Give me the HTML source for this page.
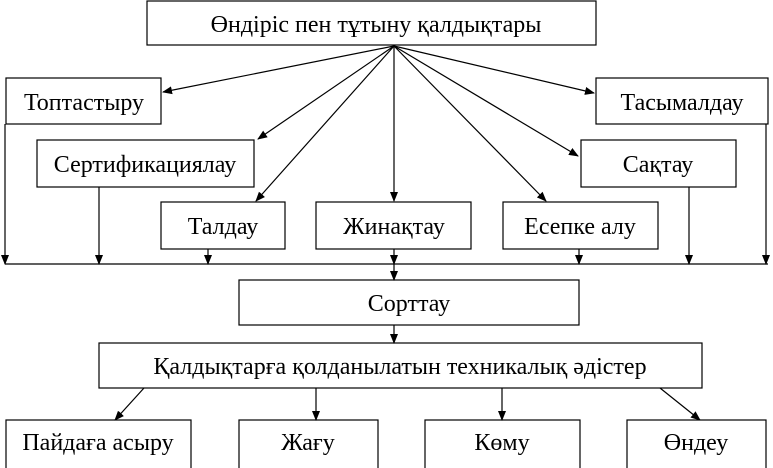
<!DOCTYPE html>
<html><head><meta charset="utf-8"><style>
html,body{margin:0;padding:0;background:#fff;width:773px;height:468px;overflow:hidden}
svg text{font-family:"Liberation Serif",serif;font-size:24px;fill:#000;text-anchor:middle}
</style></head><body>
<svg width="773" height="468" viewBox="0 0 773 468" xmlns="http://www.w3.org/2000/svg">
<defs><marker id="a" markerWidth="10" markerHeight="10" refX="9" refY="5" orient="auto" markerUnits="userSpaceOnUse"><path d="M0,1 L10,5 L0,9 z" fill="#000"/></marker></defs>
<g fill="#fff" stroke="#000" stroke-width="1.2">
<rect x="147" y="1" width="449" height="44"/>
<rect x="6" y="78" width="155" height="46"/>
<rect x="596" y="78" width="172" height="46"/>
<rect x="37" y="140" width="217" height="47"/>
<rect x="581" y="140" width="155" height="47"/>
<rect x="161" y="202" width="124" height="47"/>
<rect x="316" y="202" width="155" height="47"/>
<rect x="503" y="202" width="155" height="47"/>
<rect x="239" y="280" width="340" height="45"/>
<rect x="99" y="343" width="603" height="45"/>
<rect x="6" y="420" width="185" height="50"/>
<rect x="239" y="420" width="139" height="50"/>
<rect x="425" y="420" width="155" height="50"/>
<rect x="627" y="420" width="139" height="50"/>
</g>
<g stroke="#000" stroke-width="1.2" marker-end="url(#a)">
<line x1="394" y1="46" x2="163" y2="92"/>
<line x1="394" y1="46" x2="594" y2="93"/>
<line x1="394" y1="46" x2="258" y2="139"/>
<line x1="394" y1="46" x2="578" y2="156"/>
<line x1="394" y1="46" x2="256" y2="201"/>
<line x1="394" y1="46" x2="394" y2="201"/>
<line x1="394" y1="46" x2="546" y2="201"/>
<line x1="5" y1="124" x2="5" y2="264"/>
<line x1="99" y1="187" x2="99" y2="264"/>
<line x1="208" y1="249" x2="208" y2="264"/>
<line x1="394" y1="249" x2="394" y2="264"/>
<line x1="579" y1="249" x2="579" y2="264"/>
<line x1="689" y1="187" x2="689" y2="264"/>
<line x1="766" y1="124" x2="766" y2="264"/>
<line x1="394" y1="264" x2="394" y2="280"/>
<line x1="394" y1="325" x2="394" y2="343"/>
<line x1="144" y1="388" x2="115" y2="420"/>
<line x1="316" y1="388" x2="316" y2="420"/>
<line x1="502" y1="388" x2="502" y2="420"/>
<line x1="660" y1="388" x2="700" y2="420"/>
</g>
<line x1="5" y1="264" x2="768" y2="264" stroke="#000" stroke-width="1.2"/>
<text x="376" y="32">Өндіріс пен тұтыну қалдықтары</text>
<text x="84" y="110">Топтастыру</text>
<text x="682" y="110">Тасымалдау</text>
<text x="145" y="172">Сертификациялау</text>
<text x="658" y="172">Сақтау</text>
<text x="223" y="234">Талдау</text>
<text x="394" y="234">Жинақтау</text>
<text x="580" y="234">Есепке алу</text>
<text x="409" y="311">Сорттау</text>
<text x="400" y="374">Қалдықтарға қолданылатын техникалық әдістер</text>
<text x="98" y="450">Пайдаға асыру</text>
<text x="308" y="450">Жағу</text>
<text x="502" y="450">Көму</text>
<text x="696" y="450">Өндеу</text>
</svg>
</body></html>
